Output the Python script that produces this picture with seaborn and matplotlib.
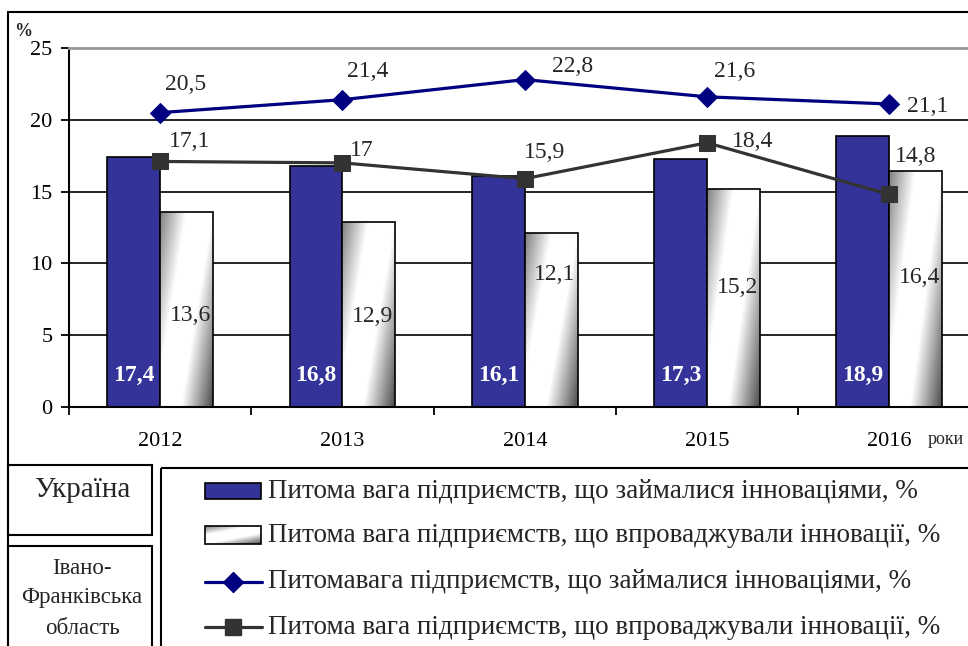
import numpy as np
import pandas as pd
import matplotlib
matplotlib.use("Agg")
import matplotlib.pyplot as plt
from matplotlib.patches import Rectangle
import seaborn as sns

# data
years = ["2012", "2013", "2014", "2015", "2016"]
ukraine_engaged = [17.4, 16.8, 16.1, 17.3, 18.9]      # blue bars
ukraine_implemented = [13.6, 12.9, 12.1, 15.2, 16.4]  # white gradient bars
region_engaged = [20.5, 21.4, 22.8, 21.6, 21.1]       # navy line, diamonds
region_implemented = [17.1, 17.0, 15.9, 18.4, 14.8]   # gray line, squares

legend_labels = [
    "Питома вага підприємств, що займалися інноваціями, %",
    "Питома вага підприємств, що впроваджували інновації, %",
    "Питомавага підприємств, що займалися інноваціями, %",
    "Питома вага підприємств, що впроваджували інновації, %",
]

BLUE = "#333399"
NAVY = "#000080"
GRAY = "#333333"

sns.set_style("ticks")
plt.rcParams["font.family"] = ["Liberation Serif", "DejaVu Serif"]

W, H = 968, 646
fig = plt.figure(figsize=(W / 100, H / 100), dpi=100)
ax = fig.add_axes([69 / W, (H - 407) / H, 0.93, (407 - 48) / H])

df = pd.DataFrame({
    "year": years * 2,
    "value": ukraine_engaged + ukraine_implemented,
    "series": ["engaged"] * len(years) + ["implemented"] * len(years),
})
sns.barplot(data=df, x="year", y="value", hue="series", palette=[BLUE, "white"],
            saturation=1, width=0.58, edgecolor="black", linewidth=1.2,
            legend=False, ax=ax, zorder=2)

# gradient fill for the second bar series (dark top-left and bottom-right)
gx, gy = np.meshgrid(np.linspace(0, 1, 80), np.linspace(0, 1, 80))
u = gx + 0.6 * gy
shade = np.interp(u, [0.0, 0.5, 1.0, 1.6], [0.5, 1.0, 1.0, 0.3])


def gradient_fill(axis, patch, z):
    x0, y0 = patch.get_x(), patch.get_y()
    x1, y1 = x0 + patch.get_width(), y0 + patch.get_height()
    im = axis.imshow(shade, cmap="gray", vmin=0, vmax=1, origin="upper",
                     extent=[x0, x1, y0, y1], aspect="auto", zorder=z,
                     interpolation="bilinear")
    im.set_clip_path(patch)
    patch.set_facecolor("none")
    patch.set_zorder(z + 0.1)


for bar in ax.containers[1]:
    gradient_fill(ax, bar, 2.1)

pos = np.arange(len(years))
sns.lineplot(x=pos, y=region_engaged, color=NAVY, marker="D", markersize=10,
             markeredgecolor=NAVY, linewidth=2.3, ax=ax, zorder=4)
sns.lineplot(x=pos, y=region_implemented, color=GRAY, marker="s", markersize=12,
             markeredgecolor=GRAY, linewidth=2.3, ax=ax, zorder=4)

ax.set_xlim(-0.5, -0.5 + 0.93 * W / 182.3)
ax.set_ylim(0, 25)
ax.set_yticks(range(0, 26, 5))
ax.set_xticks(np.arange(-0.5, 4, 1), minor=True)
ax.yaxis.grid(True, color="black", linewidth=1.2)
ax.set_axisbelow(True)
ax.set_xlabel("")
ax.set_ylabel("")
ax.spines["right"].set_visible(False)
ax.spines["top"].set_color("#999999")
ax.spines["top"].set_linewidth(2)
for s in ("left", "bottom"):
    ax.spines[s].set_linewidth(1.5)
    ax.spines[s].set_color("black")
ax.tick_params(axis="y", direction="out", length=6, width=1.3, labelsize=16, pad=6, colors="black")
ax.tick_params(axis="x", which="major", length=0, labelsize=16, pad=18, colors="black")
ax.tick_params(axis="x", which="minor", direction="out", length=6, width=1.3, color="black")


def fmt(v):
    return f"{v:g}".replace(".", ",")


pt = 0.72  # points per pixel
diamond_off = [(25, 28), (25, 28), (48, 13), (28, 25), (38, -2)]
square_off = [(29, 20), (19, 12), (20, 26), (46, 1), (26, 38)]
for i, v in enumerate(region_engaged):
    dx, dy = diamond_off[i]
    ax.annotate(fmt(v), (pos[i], v), xytext=(dx * pt, dy * pt), textcoords="offset points",
                ha="center", va="center", fontsize=17, zorder=5)
for i, v in enumerate(region_implemented):
    dx, dy = square_off[i]
    ax.annotate(fmt(v), (pos[i], v), xytext=(dx * pt, dy * pt), textcoords="offset points",
                ha="center", va="center", fontsize=17, zorder=5)

for bar, v in zip(ax.containers[0], ukraine_engaged):
    ax.text(bar.get_x() + bar.get_width() / 2, 2.2, fmt(v), color="white",
            fontweight="bold", ha="center", va="center", fontsize=17, zorder=5)
white_label_y = [6.4, 6.3, 9.2, 8.3, 9.0]
for bar, v, ly in zip(ax.containers[1], ukraine_implemented, white_label_y):
    ax.text(bar.get_x() + bar.get_width() / 2 + 0.02, ly, fmt(v),
            ha="center", va="center", fontsize=17, zorder=5)

# overlay in pixel coordinates for frame, boxes and legend
ov = fig.add_axes([0, 0, 1, 1])
ov.set_xlim(0, W)
ov.set_ylim(H, 0)
ov.axis("off")

ov.plot([8, 8], [12, H + 5], color="black", lw=1.5)
ov.plot([8, W + 5], [12, 12], color="black", lw=1.5)
ov.add_patch(Rectangle((8, 465), 144, 70, fill=False, lw=1.5, ec="black"))
ov.add_patch(Rectangle((8, 546), 144, 120, fill=False, lw=1.5, ec="black"))
ov.add_patch(Rectangle((161, 468), 820, 200, fill=False, lw=1.5, ec="black"))

ov.text(82, 490, "Україна", ha="center", va="center", fontsize=21)
ov.text(82, 568, "Івано-", ha="center", va="center", fontsize=16.5)
ov.text(82, 598, "Франківська", ha="center", va="center", fontsize=16.5)
ov.text(82, 628, "область", ha="center", va="center", fontsize=16.5)

ov.text(23, 32, "%", ha="center", va="center", fontsize=13, fontweight="bold")
ov.text(928, 440, "роки", ha="left", va="center", fontsize=13)

row_y = [491, 535, 582, 627]
ov.add_patch(Rectangle((205, 483), 56, 16, fc=BLUE, ec="black", lw=1.2))
leg_grad = Rectangle((205, 526), 56, 18, fc="white", ec="black", lw=1.2)
ov.add_patch(leg_grad)
im = ov.imshow(shade.T, cmap="gray", vmin=0, vmax=1, extent=[205, 261, 544, 526],
               aspect="auto", interpolation="bilinear", zorder=1)
im.set_clip_path(leg_grad)
leg_grad.set_facecolor("none")
leg_grad.set_zorder(1.1)
ov.set_xlim(0, W)
ov.set_ylim(H, 0)
ov.plot([205, 262], [row_y[2]] * 2, color=NAVY, lw=2.3)
ov.plot([233], [row_y[2]], marker="D", markersize=10, color=NAVY)
ov.plot([205, 262], [row_y[3]] * 2, color=GRAY, lw=2.3)
ov.plot([233], [row_y[3]], marker="s", markersize=12, color=GRAY)
for y, lab in zip(row_y, legend_labels):
    ov.text(268, y, lab, ha="left", va="center", fontsize=19.5)

fig.savefig("out.png", dpi=100)
